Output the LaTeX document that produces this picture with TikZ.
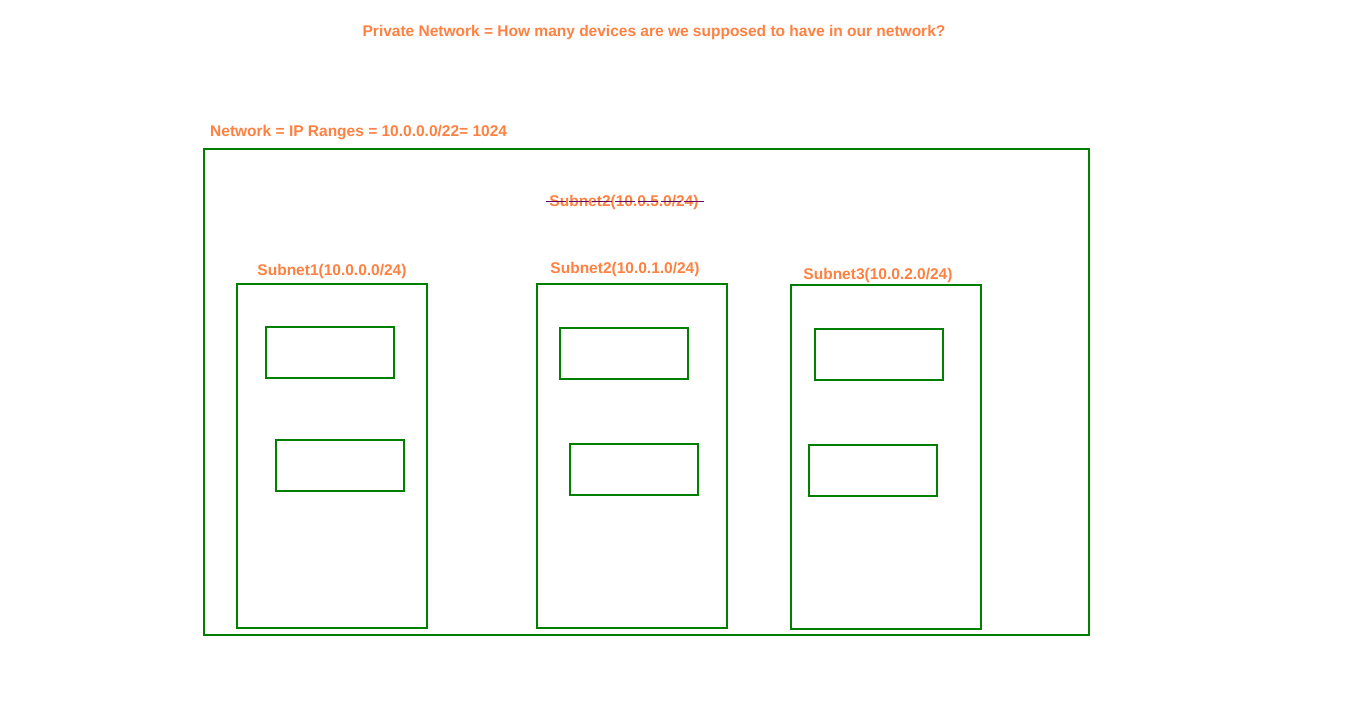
\documentclass[tikz,border=0pt]{standalone}
\usepackage{fontspec}
\setmainfont{Liberation Sans}
\definecolor{og}{HTML}{FF8040}
\definecolor{gr}{HTML}{007F00}
\definecolor{pu}{HTML}{660066}
\begin{document}
\begin{tikzpicture}[x=1pt,y=-1pt,
  lbl/.style={text=og,font=\bfseries\fontsize{15.5}{18}\selectfont,inner sep=0pt},
  box/.style={draw=gr,line width=1.6pt}]
\useasboundingbox (0,0) rectangle (1354,714);
\node[lbl] (title) at (654,32) {Private Network = How many devices are we supposed to have in our network?};
\node[lbl,anchor=west] (netlbl) at (210,133) {Network = IP Ranges = 10.0.0.0/22= 1024};
\draw[box] (204,149) rectangle (1089,635);
\node[lbl] (old) at (624,202) {Subnet2(10.0.5.0/24)};
\coordinate (s1) at (546,202);
\coordinate (s2) at (707,202);
\draw[pu,line width=1pt,dash pattern=on 20pt off 3pt] (s1) -- (s2);
% subnet 1
\node[lbl] (l1) at (332,271) {Subnet1(10.0.0.0/24)};
\draw[box] (237,284) rectangle (427,628);
\draw[box] (266,327) rectangle (394,378);
\draw[box] (276,440) rectangle (404,491);
% subnet 2
\node[lbl] (l2) at (625,269) {Subnet2(10.0.1.0/24)};
\draw[box] (537,284) rectangle (727,628);
\draw[box] (560,328) rectangle (688,379);
\draw[box] (570,444) rectangle (698,495);
% subnet 3
\node[lbl] (l3) at (878,275) {Subnet3(10.0.2.0/24)};
\draw[box] (791,285) rectangle (981,629);
\draw[box] (815,329) rectangle (943,380);
\draw[box] (809,445) rectangle (937,496);
\end{tikzpicture}
\end{document}
